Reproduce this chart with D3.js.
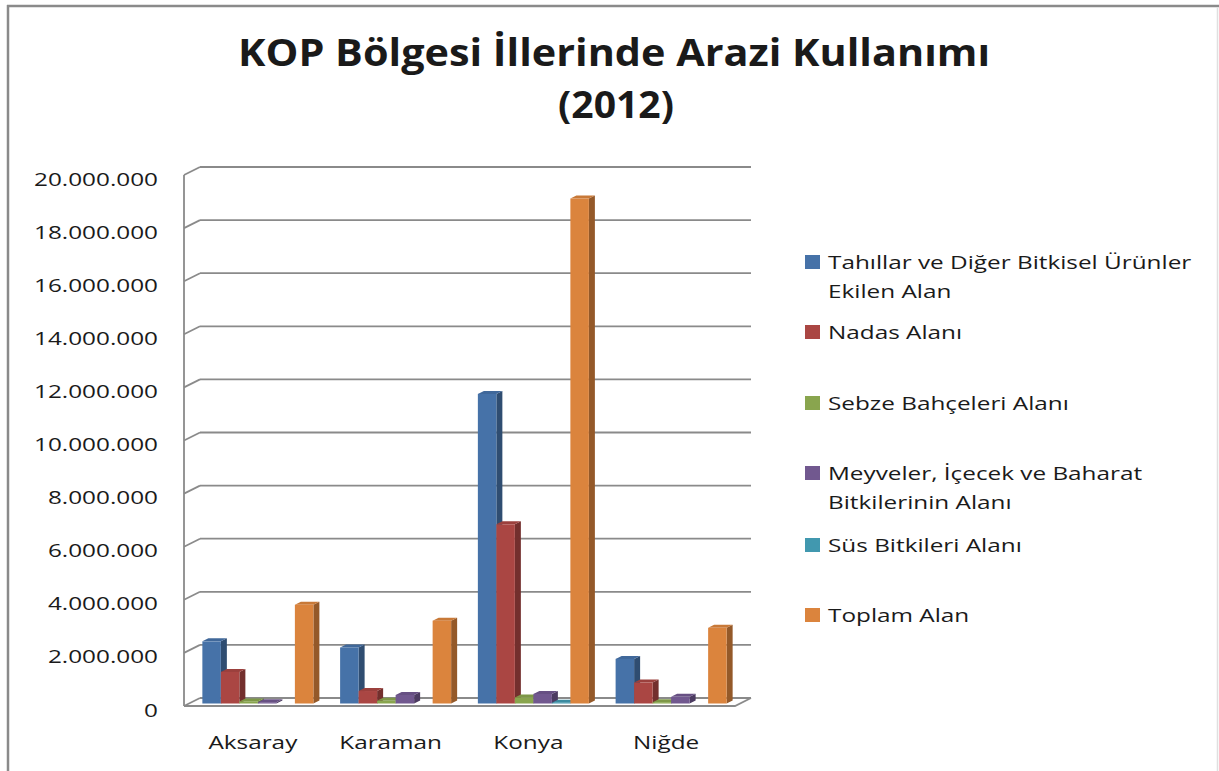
<!DOCTYPE html>
<html>
<head>
<meta charset="utf-8">
<script src="https://cdn.jsdelivr.net/npm/d3@7"></script>
<style>
  body { margin: 0; background: #fff; }
  text { font-family: "Open Sans", sans-serif; fill: #1a1a1a; }
</style>
</head>
<body>
<div id="chart"></div>
<script>
// data (dekar)
const cities = ["Aksaray", "Karaman", "Konya", "Niğde"];
const seriesNames = [
  "Tahıllar ve Diğer Bitkisel Ürünler|Ekilen Alan",
  "Nadas Alanı",
  "Sebze Bahçeleri  Alanı",
  "Meyveler, İçecek ve Baharat|Bitkilerinin Alanı",
  "Süs Bitkileri  Alanı",
  "Toplam Alan"
];
const tahillar = [2340000, 2110000, 11660000, 1680000];
const nadas    = [1190000,  470000,  6750000,  790000];
const sebze    = [  80000,  100000,   230000,   50000];
const meyve    = [  50000,  320000,   360000,  250000];
const sus      = [      0,       0,    30000,       0];
const toplam   = [3720000, 3120000, 19020000, 2850000];
const yTickValues = [0, 2000000, 4000000, 6000000, 8000000, 10000000,
                     12000000, 14000000, 16000000, 18000000, 20000000];

const series = [tahillar, nadas, sebze, meyve, sus, toplam];
const colors = ["#4672A8", "#AA4643", "#89A54E", "#71588F", "#4198AF", "#DB843D"];

const width = 1219, height = 771;
const stretch = 1.28; // the reference text is drawn horizontally wide

const svg = d3.select("#chart").append("svg")
  .attr("width", width)
  .attr("height", height);

// frame
svg.append("line").attr("x1", 7).attr("x2", 1219).attr("y1", 6).attr("y2", 6)
  .style("stroke", "#8a8a8a").style("stroke-width", 2.5);
svg.append("line").attr("x1", 8).attr("x2", 8).attr("y1", 5).attr("y2", 771)
  .style("stroke", "#8a8a8a").style("stroke-width", 2.5);
svg.append("line").attr("x1", 1217.5).attr("x2", 1217.5).attr("y1", 7).attr("y2", 771)
  .style("stroke", "#e0e0e0").style("stroke-width", 1.5);

// title, two separate lines
svg.append("text")
  .attr("x", 614).attr("y", 66)
  .attr("text-anchor", "middle")
  .attr("textLength", 752).attr("lengthAdjust", "spacingAndGlyphs")
  .style("font-weight", "bold")
  .style("font-size", "38px")
  .text("KOP Bölgesi İllerinde Arazi Kullanımı");
svg.append("text")
  .attr("x", 616).attr("y", 118)
  .attr("text-anchor", "middle")
  .attr("textLength", 116).attr("lengthAdjust", "spacingAndGlyphs")
  .style("font-weight", "bold")
  .style("font-size", "38px")
  .text("(2012)");

// 3d geometry: wall depth and bar plane
const wallDx = 16, wallDy = 8;
const barDx = 6, barDy = 3;
const planeDx = 5, planeDy = 5.5;

const yBack = d3.scaleLinear().domain([0, 20000000]).range([698, 167]);
const x0 = d3.scaleBand().domain(cities).range([184, 735]);
const x1 = d3.scaleBand().domain(d3.range(series.length))
  .range([x0.bandwidth() * 0.097, x0.bandwidth() * 0.903]);

const grid = svg.append("g")
  .style("stroke", "#8a8a8a")
  .style("stroke-width", 1.8)
  .style("fill", "none");

const xl = x0.range()[0], xr = x0.range()[1];

grid.selectAll("line.y")
  .data(yTickValues)
  .enter().append("line")
  .attr("x1", xl + wallDx)
  .attr("x2", xr + wallDx)
  .attr("y1", d => yBack(d))
  .attr("y2", d => yBack(d));

grid.selectAll("line.side")
  .data(yTickValues)
  .enter().append("line")
  .attr("x1", xl)
  .attr("x2", xl + wallDx)
  .attr("y1", d => yBack(d) + wallDy)
  .attr("y2", d => yBack(d));

grid.append("line")
  .attr("x1", xl).attr("x2", xl)
  .attr("y1", yBack(20000000) + wallDy).attr("y2", yBack(0) + wallDy);
grid.append("path")
  .attr("d", "M" + xl + "," + (yBack(0) + wallDy) + "H" + xr +
    "L" + (xr + wallDx) + "," + yBack(0));

// bars
const bars = svg.append("g");
cities.forEach((city, ci) => {
  series.forEach((values, si) => {
    const v = values[ci];
    if (!(v > 0)) return;
    const x = x0(city) + planeDx + x1(si);
    const w = x1.bandwidth();
    const base = yBack(0) + planeDy;
    const top = yBack(v) + planeDy;
    const c = d3.color(colors[si]);
    const g = bars.append("g");
    g.append("path")
      .attr("d", "M" + (x + w) + "," + top + "L" + (x + w + barDx) + "," + (top - barDy) +
        "V" + (base - barDy) + "L" + (x + w) + "," + base + "Z")
      .style("fill", c.darker(1.1));
    g.append("path")
      .attr("d", "M" + x + "," + top + "L" + (x + w) + "," + top +
        "L" + (x + w + barDx) + "," + (top - barDy) + "L" + (x + barDx) + "," + (top - barDy) + "Z")
      .style("fill", c.darker(0.25));
    g.append("rect")
      .attr("x", x)
      .attr("y", top)
      .attr("width", w)
      .attr("height", base - top)
      .style("fill", c);
  });
});

// y axis
const trLocale = d3.formatLocale({ decimal: ",", thousands: ".", grouping: [3], currency: ["", ""] });
const yFront = d3.scaleLinear().domain(yBack.domain())
  .range(yBack.range().map(d => d + wallDy + 4));
const yAxis = d3.axisLeft(yFront)
  .tickValues(yTickValues)
  .tickSize(0)
  .tickFormat(trLocale.format(",d"));
const yg = svg.append("g")
  .attr("transform", "translate(" + xl + ",0)")
  .call(yAxis);
yg.select(".domain").remove();
yg.selectAll("text")
  .attr("x", -26 / stretch)
  .attr("transform", "scale(" + stretch + ",1)")
  .style("font-size", "19px")
  .style("font-family", "Open Sans, sans-serif")
  .style("fill", "#1a1a1a");

// x axis
const xAxis = d3.axisBottom(x0).tickSize(0);
const xg = svg.append("g")
  .attr("transform", "translate(0," + (yBack(0) + wallDy) + ")")
  .call(xAxis);
xg.select(".domain").remove();
xg.selectAll(".tick text")
  .attr("y", 0)
  .attr("dy", 43)
  .attr("transform", "scale(" + stretch + ",1)")
  .style("font-size", "19px")
  .style("font-family", "Open Sans, sans-serif")
  .style("fill", "#1a1a1a");

// legend
const legendRows = [262, 332, 403, 473, 545, 615];
const legend = svg.append("g");
seriesNames.forEach((name, i) => {
  const y = legendRows[i];
  legend.append("rect")
    .attr("x", 805).attr("y", y - 7)
    .attr("width", 15).attr("height", 14)
    .style("fill", colors[i]);
  name.split("|").forEach((line, li) => {
    legend.append("text")
      .attr("transform", "translate(828," + (y + 7 + li * 28.5) + ") scale(" + stretch + ",1)")
      .style("font-size", "19px")
      .text(line);
  });
});
</script>
</body>
</html>
